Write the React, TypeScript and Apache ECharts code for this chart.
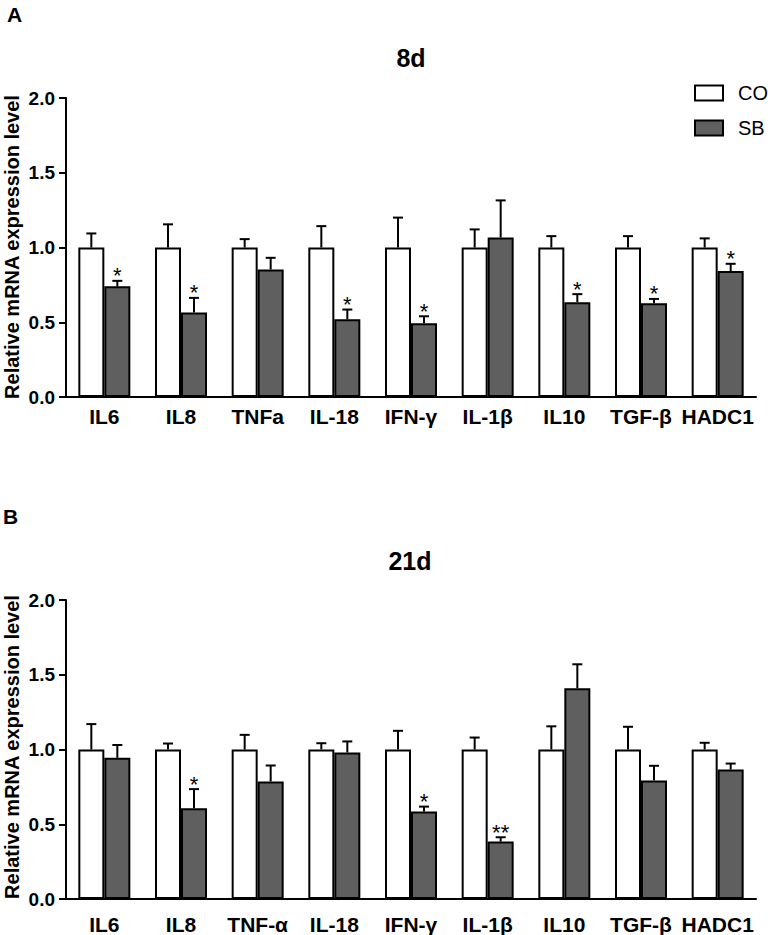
import React, { useEffect, useRef } from "react";
import * as echarts from "echarts";

const categories8d = ["IL6", "IL8", "TNFa", "IL-18", "IFN-γ", "IL-1β", "IL10", "TGF-β", "HADC1"];
const categories21d = ["IL6", "IL8", "TNF-α", "IL-18", "IFN-γ", "IL-1β", "IL10", "TGF-β", "HADC1"];

const co8d = [1, 1, 1, 1, 1, 1, 1, 1, 1];
const coErr8d = [0.094, 0.155, 0.056, 0.143, 0.2, 0.121, 0.076, 0.076, 0.061];
const sb8d = [0.74, 0.565, 0.853, 0.52, 0.494, 1.067, 0.634, 0.627, 0.842];
const sbErr8d = [0.037, 0.098, 0.078, 0.065, 0.046, 0.248, 0.054, 0.029, 0.049];
const stars8d = ["*", "*", "", "*", "*", "", "*", "*", "*"];

const co21d = [1, 1, 1, 1, 1, 1, 1, 1, 1];
const coErr21d = [0.17, 0.04, 0.098, 0.042, 0.125, 0.08, 0.155, 0.152, 0.045];
const sb21d = [0.944, 0.607, 0.786, 0.98, 0.585, 0.384, 1.41, 0.792, 0.866];
const sbErr21d = [0.086, 0.128, 0.107, 0.074, 0.033, 0.029, 0.16, 0.099, 0.04];
const stars21d = ["", "*", "", "", "*", "**", "", "", ""];

const yTicks = [0, 0.5, 1, 1.5, 2];

const FONT = "'Liberation Sans', Arial, Helvetica, sans-serif";
const BAR_W = 26;
const SB_COLOR = "#5f5f5f";

function errRender(sign: number, stars: string[] | null) {
  return (params: any, api: any) => {
    const i = api.value(0);
    const m = api.value(1);
    const e = api.value(2);
    const b = api.coord([i, m]);
    const t = api.coord([i, m + e]);
    const x = b[0] + (sign * BAR_W) / 2;
    const children: any[] = [
      { type: "line", shape: { x1: x, y1: b[1], x2: x, y2: t[1] }, style: { stroke: "#000", lineWidth: 2 } },
      { type: "line", shape: { x1: x - 5, y1: t[1], x2: x + 5, y2: t[1] }, style: { stroke: "#000", lineWidth: 2 } },
    ];
    const s = stars ? stars[params.dataIndex] : "";
    if (s) {
      children.push({
        type: "text",
        x: x,
        y: t[1] - 5,
        style: {
          text: s,
          fill: "#000",
          font: `normal 22px ${FONT}`,
          align: "center",
          verticalAlign: "middle",
          textAlign: "center",
          textVerticalAlign: "middle",
        },
      });
    }
    return { type: "group", children };
  };
}

function makeAxes(gridIndex: number, cats: string[], labelMargin: number) {
  const xAxis = {
    type: "category",
    gridIndex,
    data: cats,
    axisLine: { lineStyle: { color: "#000", width: 2 } },
    axisTick: { alignWithLabel: true, length: 7, lineStyle: { color: "#000", width: 2 } },
    axisLabel: {
      color: "#000",
      fontFamily: FONT,
      fontWeight: "bold",
      fontSize: 21,
      margin: labelMargin,
      interval: 0,
    },
    splitLine: { show: false },
  };
  const yAxis = {
    type: "value",
    gridIndex,
    min: yTicks[0],
    max: yTicks[yTicks.length - 1],
    interval: 0.5,
    axisLine: { show: true, lineStyle: { color: "#000", width: 2 } },
    axisTick: { show: true, length: 7, lineStyle: { color: "#000", width: 2 } },
    axisLabel: {
      color: "#000",
      fontFamily: FONT,
      fontWeight: "bold",
      fontSize: 19,
      margin: 11,
      formatter: (v: number) => v.toFixed(1),
    },
    splitLine: { show: false },
  };
  return { xAxis, yAxis };
}

function makeSeries(idx: number, co: number[], coErr: number[], sb: number[], sbErr: number[], stars: string[]) {
  return [
    {
      name: "CO",
      type: "bar",
      xAxisIndex: idx,
      yAxisIndex: idx,
      data: co,
      barWidth: BAR_W,
      barGap: "0%",
      itemStyle: { color: "#fff", borderColor: "#000", borderWidth: 2 },
      z: 2,
    },
    {
      name: "SB",
      type: "bar",
      xAxisIndex: idx,
      yAxisIndex: idx,
      data: sb,
      barWidth: BAR_W,
      barGap: "0%",
      itemStyle: { color: SB_COLOR, borderColor: "#000", borderWidth: 2 },
      z: 2,
    },
    {
      name: "CO error",
      type: "custom",
      xAxisIndex: idx,
      yAxisIndex: idx,
      data: co.map((v, i) => [i, v, coErr[i]]),
      encode: { x: 0, y: 1 },
      renderItem: errRender(-1, null),
      z: 3,
    },
    {
      name: "SB error",
      type: "custom",
      xAxisIndex: idx,
      yAxisIndex: idx,
      data: sb.map((v, i) => [i, v, sbErr[i]]),
      encode: { x: 0, y: 1 },
      renderItem: errRender(1, stars),
      z: 3,
    },
  ];
}

const yNameStyle = (y: number) => ({
  type: "text",
  x: 12,
  y,
  rotation: Math.PI / 2,
  style: {
    text: "Relative mRNA expression level",
    font: `bold 20px ${FONT}`,
    fill: "#000",
    align: "center",
    verticalAlign: "middle",
  },
});

export default function App() {
  const ref = useRef<HTMLDivElement>(null);
  useEffect(() => {
    if (!ref.current) return;
    const chart = echarts.init(ref.current, null, { renderer: "svg" });
    const a0 = makeAxes(0, categories8d, 9);
    const a1 = makeAxes(1, categories21d, 15);
    const option: any = {
      animation: false,
      backgroundColor: "#fff",
      textStyle: { fontFamily: FONT },
      grid: [
        { left: 66, width: 690, top: 98, height: 299 },
        { left: 66, width: 690, top: 600, height: 299 },
      ],
      xAxis: [a0.xAxis, a1.xAxis],
      yAxis: [a0.yAxis, a1.yAxis],
      legend: {
        orient: "vertical",
        left: 694,
        top: 83,
        padding: 0,
        itemWidth: 28,
        itemHeight: 15,
        itemGap: 15,
        icon: "rect",
        selectedMode: false,
        textStyle: { fontFamily: FONT, fontSize: 20, color: "#000", padding: [0, 0, 0, 10] },
        data: [
          { name: "CO", itemStyle: { color: "#fff", borderColor: "#000", borderWidth: 2 } },
          { name: "SB", itemStyle: { color: SB_COLOR, borderColor: "#000", borderWidth: 2 } },
        ],
      },
      graphic: [
        { type: "text", left: 7, top: 4, style: { text: "A", font: `bold 21px ${FONT}`, fill: "#000" } },
        { type: "text", left: 3, top: 506, style: { text: "B", font: `bold 21px ${FONT}`, fill: "#000" } },
        {
          type: "text",
          x: 411,
          y: 58,
          style: { text: "8d", font: `bold 25px ${FONT}`, fill: "#000", align: "center", verticalAlign: "middle" },
        },
        {
          type: "text",
          x: 410,
          y: 561,
          style: { text: "21d", font: `bold 25px ${FONT}`, fill: "#000", align: "center", verticalAlign: "middle" },
        },
        yNameStyle(247),
        yNameStyle(747),
      ],
      series: [
        ...makeSeries(0, co8d, coErr8d, sb8d, sbErr8d, stars8d),
        ...makeSeries(1, co21d, coErr21d, sb21d, sbErr21d, stars21d),
      ],
    };
    chart.setOption(option);
    return () => chart.dispose();
  }, []);
  return (
    <div
      ref={ref}
      style={{ position: "absolute", left: 0, top: 0, width: 770, height: 935, background: "#fff" }}
    />
  );
}
